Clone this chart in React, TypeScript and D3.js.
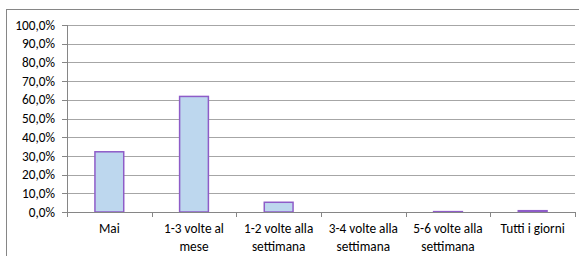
import React from "react";
import * as d3 from "d3";

const categories = [
  ["Mai"],
  ["1-3 volte al", "mese"],
  ["1-2 volte alla", "settimana"],
  ["3-4 volte alla", "settimana"],
  ["5-6 volte alla", "settimana"],
  ["Tutti i giorni"],
];
const values = [32.2, 61.8, 5.2, 0, 0.2, 0.7];
const yTicks = [0, 10, 20, 30, 40, 50, 60, 70, 80, 90, 100];

const W = 579;
const H = 256;
const left = 67;
const right = 575;
const top = 25;
const bottom = 212;
const font = "Carlito, Calibri, 'Liberation Sans', Arial, sans-serif";

export default function App() {
  const x = d3
    .scaleBand<number>()
    .domain(d3.range(categories.length))
    .range([left, right])
    .paddingInner(0.66)
    .paddingOuter(0.33);
  const band = (right - left) / categories.length;
  const y = d3.scaleLinear().domain([0, 100]).range([bottom, top]);
  const fmt = (v: number) => v.toFixed(1).replace(".", ",") + "%";

  return (
    <svg
      width={W}
      height={H}
      style={{ position: "absolute", left: 0, top: 0, display: "block" }}
    >
      <rect x={0} y={0} width={W} height={H} fill="#fff" />
      <rect x={6.5} y={9.5} width={W + 10} height={H + 10} fill="none" stroke="#868686" strokeWidth={1} />
      {yTicks.map((t) => (
        <g key={t}>
          {t > 0 && (
            <line x1={left} x2={right} y1={Math.round(y(t)) + 0.5} y2={Math.round(y(t)) + 0.5} stroke="#a6a6a6" strokeWidth={1} />
          )}
          <line x1={left - 5} x2={left} y1={Math.round(y(t)) + 0.5} y2={Math.round(y(t)) + 0.5} stroke="#868686" />
          <text
            x={55}
            y={y(t)}
            dy="0.35em"
            textAnchor="end"
            fontFamily={font}
            fontSize={13.3}
            fill="#000"
          >
            {fmt(t)}
          </text>
        </g>
      ))}
      {values.map((v, i) => (
        <rect
          key={i}
          x={x(i)}
          y={y(v)}
          width={x.bandwidth()}
          height={bottom - y(v)}
          fill="#bdd7ee"
          stroke="#8e5cc8"
          strokeWidth={1.5}
        />
      ))}
      <line x1={left + 0.5} x2={left + 0.5} y1={top} y2={bottom} stroke="#868686" />
      <line x1={left} x2={right} y1={bottom + 0.5} y2={bottom + 0.5} stroke="#868686" />
      {d3.range(categories.length + 1).map((i) => (
        <line
          key={i}
          x1={Math.round(left + i * band) + 0.5}
          x2={Math.round(left + i * band) + 0.5}
          y1={bottom}
          y2={bottom + 5}
          stroke="#868686"
        />
      ))}
      {categories.map((lines, i) => (
        <text
          key={i}
          x={left + (i + 0.5) * band}
          y={228}
          textAnchor="middle"
          fontFamily={font}
          fontSize={13.3}
          fill="#000"
        >
          {lines.map((l, j) => (
            <tspan key={j} x={left + (i + 0.5) * band} dy={j === 0 ? "0.35em" : 18.5}>
              {l}
            </tspan>
          ))}
        </text>
      ))}
    </svg>
  );
}
